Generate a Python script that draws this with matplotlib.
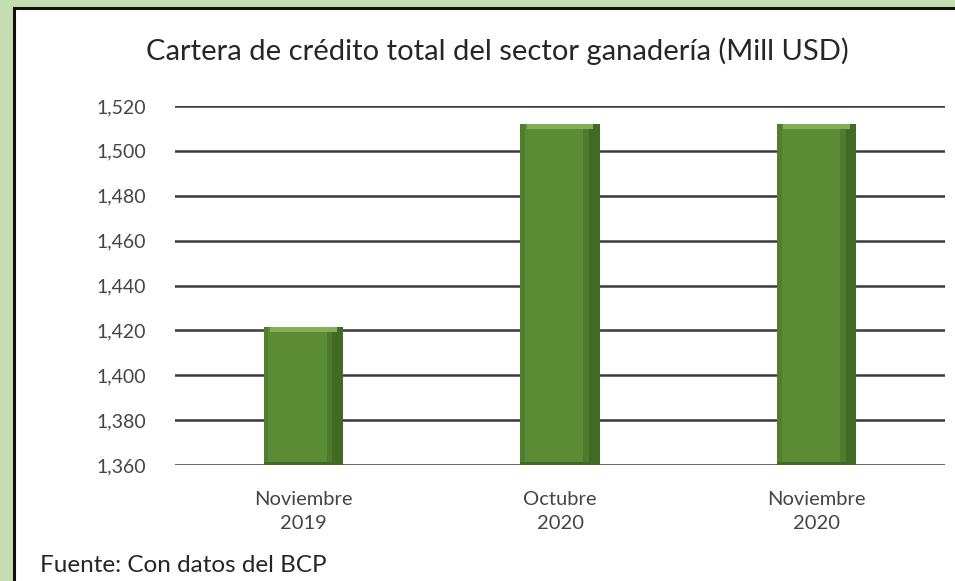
import matplotlib
matplotlib.use("Agg")
import matplotlib.pyplot as plt
from matplotlib.patches import Rectangle
from matplotlib.lines import Line2D

categories = ["Noviembre\n2019", "Octubre\n2020", "Noviembre\n2020"]
values = [1421.5, 1512, 1512]
yticks = [1360, 1380, 1400, 1420, 1440, 1460, 1480, 1500, 1520]

W, H = 955, 581
fig = plt.figure(figsize=(W / 100, H / 100), dpi=100)
fig.patch.set_facecolor("#C4DEB2")
plt.rcParams['font.family'] = ['Lato', 'DejaVu Sans']

# inner white panel with black border on top and left
top = 1 - 8 / H
left = 14 / W
fig.patches.append(Rectangle((left, 0), 1 - left, top, transform=fig.transFigure,
                             facecolor="white", edgecolor="none", zorder=-5))
fig.lines.append(Line2D([left, left], [0, top], transform=fig.transFigure,
                        color="#111111", linewidth=2.2, zorder=-4))
fig.lines.append(Line2D([left, 1], [top, top], transform=fig.transFigure,
                        color="#111111", linewidth=2.2, zorder=-4))

ax = fig.add_axes([175 / W, 1 - 465 / H, (945 - 175) / W, (465 - 106) / H])
ax.set_facecolor("none")
x = list(range(len(categories)))
bw = 0.31
ax.set_ylim(1360, 1520)
ax.set_xlim(-0.5, 2.5)
ax.set_yticks(yticks)
ax.set_yticklabels([f"{v:,}" for v in yticks], fontsize=14, color="#454545")
ax.set_xticks(x)
ax.set_xticklabels(categories, fontsize=14.5, color="#454545", linespacing=1.5)
ax.tick_params(length=0)
ax.tick_params(axis='y', pad=21)
ax.tick_params(axis='x', pad=19)
for s in ax.spines.values():
    s.set_visible(False)
ax.yaxis.grid(True, color="#3a3a3a", linewidth=1.8)
ax.set_axisbelow(True)

base = 1360
# main bar body
ax.bar(x, [v - base for v in values], bottom=base, width=bw, color="#5C8B35", zorder=2)
# right dark shading
ax.bar([xi + bw * 0.43 for xi in x], [v - base for v in values], bottom=base, width=bw * 0.14,
       color="#416A25", zorder=3)
ax.bar([xi + bw * 0.33 for xi in x], [v - base for v in values], bottom=base, width=bw * 0.07,
       color="#4E7C2D", zorder=3)
ax.bar([xi - bw * 0.47 for xi in x], [v - base for v in values], bottom=base, width=bw * 0.06,
       color="#507D2E", zorder=3)
# top light bevel
ax.bar(x, [2.2] * len(x), bottom=[v - 2.2 for v in values], width=bw * 0.84,
       color="#82B058", zorder=4)
# bottom dark base
ax.bar(x, [1.2] * len(x), bottom=base, width=bw, color="#416A25", zorder=4)

fig.text(497 / W, 1 - 51 / H, "Cartera de crédito total del sector ganadería (Mill USD)",
         ha="center", va="center", fontsize=21, color="#262626")
fig.text(40 / W, 1 - 566 / H, "Fuente: Con datos del BCP", ha="left", va="center",
         fontsize=17.5, color="#262626")

fig.savefig("out.png", dpi=100, facecolor=fig.get_facecolor())
